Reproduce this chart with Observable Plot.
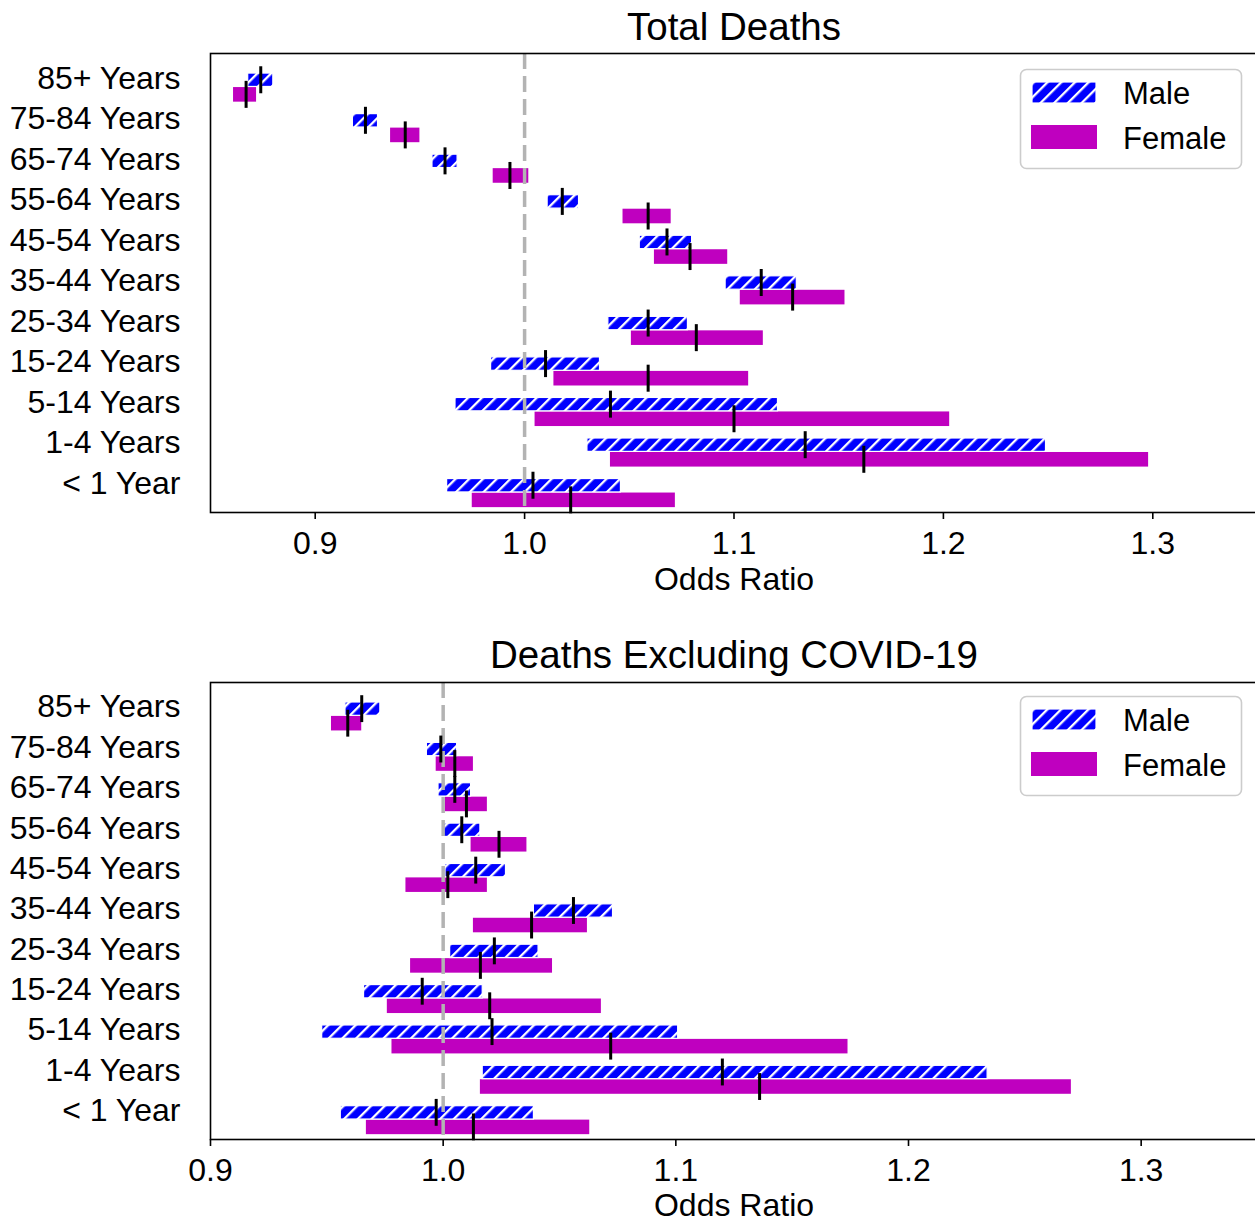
<!DOCTYPE html>
<html><head><meta charset="utf-8">
<script src="https://cdn.jsdelivr.net/npm/d3@7"></script>
<script src="https://cdn.jsdelivr.net/npm/@observablehq/plot@0.6"></script>
<style>
body{margin:0;background:#fff;}
#wrap{width:1255px;height:1222px;overflow:hidden;}
.panel{position:relative;width:1255px;overflow:hidden;}
.panel svg{display:block;}
.legend{position:absolute;left:1019px;}
</style></head><body><div id="wrap"></div>
<script>
const ages = ["85+ Years","75-84 Years","65-74 Years","55-64 Years","45-54 Years","35-44 Years","25-34 Years","15-24 Years","5-14 Years","1-4 Years","< 1 Year"];
const xTickValues = [0.9, 1.0, 1.1, 1.2, 1.3];

// Total Deaths
const totalMaleEst    = [0.874, 0.924, 0.962, 1.018, 1.068, 1.113, 1.059, 1.010, 1.041, 1.134, 1.004];
const totalMaleLow    = [0.868, 0.918, 0.956, 1.011, 1.055, 1.096, 1.040, 0.984, 0.967, 1.030, 0.963];
const totalMaleHigh   = [0.880, 0.930, 0.968, 1.026, 1.080, 1.130, 1.078, 1.036, 1.121, 1.249, 1.046];
const totalFemaleEst  = [0.867, 0.943, 0.993, 1.059, 1.079, 1.128, 1.082, 1.059, 1.100, 1.162, 1.022];
const totalFemaleLow  = [0.861, 0.936, 0.985, 1.047, 1.062, 1.103, 1.051, 1.014, 1.005, 1.041, 0.975];
const totalFemaleHigh = [0.872, 0.950, 1.002, 1.070, 1.097, 1.153, 1.114, 1.107, 1.203, 1.298, 1.072];

// Deaths Excluding COVID-19
const exclMaleEst    = [0.965, 0.999, 1.005, 1.008, 1.014, 1.056, 1.022, 0.991, 1.021, 1.120, 0.997];
const exclMaleLow    = [0.958, 0.993, 0.998, 1.000, 1.001, 1.039, 1.003, 0.966, 0.948, 1.017, 0.956];
const exclMaleHigh   = [0.973, 1.006, 1.012, 1.016, 1.027, 1.073, 1.041, 1.017, 1.101, 1.234, 1.039];
const exclFemaleEst  = [0.959, 1.005, 1.010, 1.024, 1.002, 1.038, 1.016, 1.020, 1.072, 1.136, 1.013];
const exclFemaleLow  = [0.952, 0.997, 1.001, 1.012, 0.984, 1.013, 0.986, 0.976, 0.978, 1.016, 0.967];
const exclFemaleHigh = [0.965, 1.013, 1.019, 1.036, 1.019, 1.062, 1.047, 1.068, 1.174, 1.270, 1.063];

const MALE_COLOR = "#0000ff";
const FEMALE_COLOR = "#bf00bf";
const FONT = "'Liberation Sans', Arial, Helvetica, sans-serif";
const FEMALE_OFFSET = 0.36;
const MALE_H = 0.33, FEMALE_H = 0.36, TICK_HALF = 0.333;
const TICK_FONT = 32;

function rows(est, low, high, offset) {
  return ages.map((a, i) => ({age: a, pos: i + offset, est: est[i], low: low[i], high: high[i]}));
}

function hatchDefs(svg, id) {
  const ns = "http://www.w3.org/2000/svg";
  const defs = document.createElementNS(ns, "defs");
  defs.innerHTML = `<pattern id="${id}" patternUnits="userSpaceOnUse" width="9.7" height="9.7" patternTransform="rotate(45)">
    <rect width="9.7" height="9.7" fill="${MALE_COLOR}"/>
    <rect x="0" y="0" width="2.3" height="9.7" fill="white"/></pattern>`;
  svg.insertBefore(defs, svg.firstChild);
}

function legend(top, id) {
  const div = document.createElement("div");
  div.className = "legend";
  div.style.top = top + "px";
  div.innerHTML = `<svg width="224" height="102" style="font-family:${FONT}">
    <defs><pattern id="${id}" patternUnits="userSpaceOnUse" width="9.7" height="9.7" patternTransform="rotate(45)">
    <rect width="9.7" height="9.7" fill="${MALE_COLOR}"/><rect x="0" y="0" width="2.3" height="9.7" fill="white"/></pattern></defs>
    <rect x="1.5" y="1.5" width="221" height="99" rx="6" ry="6" fill="white" fill-opacity="0.8" stroke="#cccccc" stroke-width="1.6"/>
    <rect x="13" y="14" width="64" height="21" fill="url(#${id})" stroke="white" stroke-width="1.2"/>
    <rect x="12" y="57" width="66" height="24" fill="${FEMALE_COLOR}"/>
    <text x="104" y="35.5" font-size="31px" fill="black">Male</text>
    <text x="104" y="80.5" font-size="31px" fill="black">Female</text>
  </svg>`;
  return div;
}

function panel({title, xDomain, height, marginTop, marginBottom, male, female, legendTop, id, titleDy, labelDy}) {
  const chart = Plot.plot({
    width: 1260,
    height,
    marginLeft: 210,
    marginRight: 3,
    marginTop,
    marginBottom,
    style: {fontFamily: FONT, fontSize: TICK_FONT + "px", color: "black", background: "white", overflow: "visible", maxWidth: "none"},
    x: {domain: xDomain},
    y: {domain: [-0.66, 10.66], reverse: true},
    marks: [
      Plot.rect(female, {x1: "low", x2: "high", y1: d => d.pos - FEMALE_H / 2, y2: d => d.pos + FEMALE_H / 2, fill: FEMALE_COLOR}),
      Plot.rect(male, {x1: "low", x2: "high", y1: d => d.pos - MALE_H / 2, y2: d => d.pos + MALE_H / 2, fill: "#0000fe", stroke: "white", strokeWidth: 1.2}),
      Plot.ruleX([1], {stroke: "#b3b3b3", strokeWidth: 3.5, strokeDasharray: "16,7"}),
      Plot.ruleX(male, {x: "est", y1: d => d.pos - TICK_HALF, y2: d => d.pos + TICK_HALF, stroke: "black", strokeWidth: 3}),
      Plot.ruleX(female, {x: "est", y1: d => d.pos - TICK_HALF, y2: d => d.pos + TICK_HALF, stroke: "black", strokeWidth: 3}),
      Plot.axisY(d3.range(ages.length), {tickFormat: i => ages[i], tickSize: 0, tickPadding: 30, fontSize: TICK_FONT, dy: -2, label: null}),
      Plot.axisX(xTickValues, {tickFormat: d3.format(".1f"), tickSize: 7, tickPadding: 12, strokeWidth: 1.6, fontSize: TICK_FONT, label: null}),
      Plot.frame({stroke: "black", strokeWidth: 1.6}),
      Plot.text([title], {frameAnchor: "top", lineAnchor: "middle", dy: titleDy, fontSize: 38.5, fill: "black"}),
      Plot.text(["Odds Ratio"], {frameAnchor: "bottom", lineAnchor: "middle", dy: labelDy, fontSize: TICK_FONT, fill: "black"})
    ]
  });
  chart.style.maxWidth = "none";
  chart.style.height = height + "px";
  chart.style.width = "1260px";
  hatchDefs(chart, id);
  chart.querySelectorAll('[fill="#0000fe"]').forEach(el => el.setAttribute("fill", `url(#${id})`));
  const div = document.createElement("div");
  div.className = "panel";
  div.style.height = height + "px";
  div.appendChild(chart);
  div.appendChild(legend(legendTop, id + "L"));
  return div;
}

const wrap = document.getElementById("wrap");
wrap.appendChild(panel({
  title: "Total Deaths", xDomain: [0.85, 1.35], height: 611, marginTop: 53, marginBottom: 99,
  male: rows(totalMaleEst, totalMaleLow, totalMaleHigh, 0),
  female: rows(totalFemaleEst, totalFemaleLow, totalFemaleHigh, FEMALE_OFFSET),
  legendTop: 68, id: "hatchA", titleDy: -26, labelDy: 67
}));
wrap.appendChild(panel({
  title: "Deaths Excluding COVID-19", xDomain: [0.9, 1.35], height: 611, marginTop: 71, marginBottom: 83,
  male: rows(exclMaleEst, exclMaleLow, exclMaleHigh, 0),
  female: rows(exclFemaleEst, exclFemaleLow, exclFemaleHigh, FEMALE_OFFSET),
  legendTop: 84, id: "hatchB", titleDy: -27, labelDy: 66
}));
</script></body></html>
